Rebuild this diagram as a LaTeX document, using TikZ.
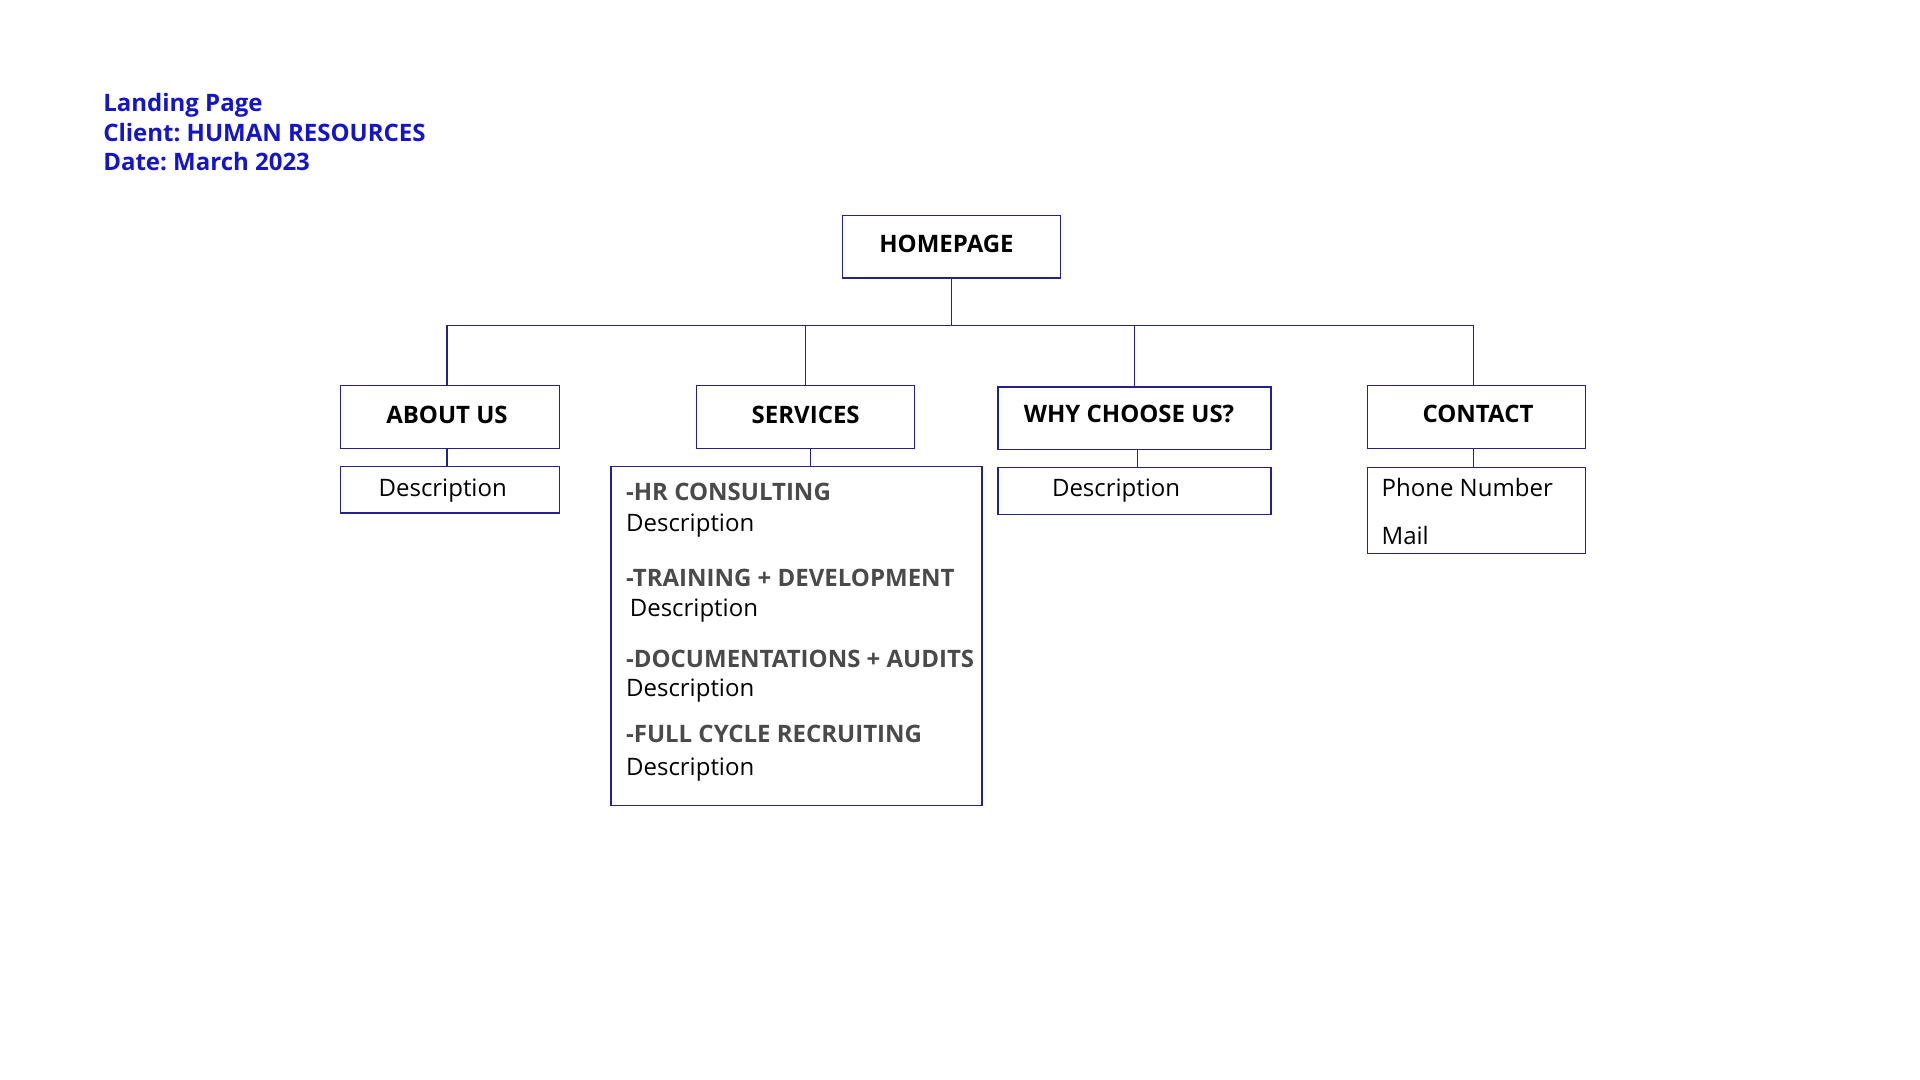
\documentclass[tikz,border=0pt]{standalone}
\usepackage{fontspec}
\setmainfont{Open Sans}
\frenchspacing
\definecolor{titleblue}{HTML}{1414C8}
\definecolor{navy}{HTML}{22228A}
\definecolor{headgray}{HTML}{4A4A4A}
\begin{document}
\begin{tikzpicture}[x=0.5pt,y=-0.5pt,
  every node/.style={font=\fontsize{12}{14.7}\selectfont, inner sep=0pt},
  box/.style={draw=navy, line width=0.6pt, rectangle},
  conn/.style={draw=navy, line width=0.6pt},
  head/.style={font=\fontsize{12}{14.7}\selectfont\bfseries},
  svchead/.style={anchor=west, text=headgray, font=\fontsize{12}{14.7}\selectfont\bfseries},
  svcdesc/.style={anchor=west},
  ttl/.style={anchor=west, text=titleblue, font=\fontsize{12}{14.7}\selectfont\bfseries}]
\useasboundingbox (0,0) rectangle (1920,1080);
% title
\node[ttl] (t1) at (102.9,105.4) {Landing Page};
\node[ttl] (t2) at (102.9,132.2) {Client: HUMAN RESOURCES};
\node[ttl] (t3) at (102.9,161.6) {Date: March 2023};
% main boxes
\node[box, minimum width=109pt, minimum height=31.25pt] (home) at (951.4,246.7) {};
\node[head] at (946.5,243.6) {HOMEPAGE};
\node[box, minimum width=109.6pt, minimum height=31.25pt] (about) at (450,417) {};
\node[head] at (447,415.1) {ABOUT US};
\node[box, minimum width=109pt, minimum height=31.25pt] (services) at (805.7,417) {};
\node[head] at (805.7,415.1) {SERVICES};
\node[box, minimum width=136.5pt, minimum height=31.2pt] (why) at (1134.5,418.2) {};
\node[head] at (1129,413.9) {WHY CHOOSE US?};
\node[box, minimum width=109pt, minimum height=31.25pt] (contact) at (1476.8,417) {};
\node[head] at (1478,413.9) {CONTACT};
% sub boxes
\node[box, minimum width=109.6pt, minimum height=23.25pt] (aboutd) at (450,489.8) {};
\node at (442.7,490.9) {Description};
\node[box, minimum width=185.5pt, minimum height=169.6pt] (svcl) at (796.5,636.1) {};
\node[box, minimum width=136.5pt, minimum height=23.25pt] (whyd) at (1134.5,491) {};
\node at (1116.1,490.9) {Description};
\node[box, minimum width=109pt, minimum height=42.85pt] (contd) at (1476.8,510.7) {};
\node[anchor=west] at (1381.2,487.4) {Phone Number};
\node[anchor=west] at (1381.2,535.1) {Mail};
% services list text
\node[svchead] at (625.7,492.2) {-HR CONSULTING};
\node[svcdesc] at (625.7,525.1) {Description};
\node[svchead] at (625.7,577.9) {-TRAINING + DEVELOPMENT};
\node[svcdesc] at (629.4,610.9) {Description};
\node[svchead] at (625.7,658.8) {-DOCUMENTATIONS + AUDITS};
\node[svcdesc] at (625.7,690.5) {Description};
\node[svchead] at (625.7,733.5) {-FULL CYCLE RECRUITING};
\node[svcdesc] at (625.7,770) {Description};
% connectors
\coordinate (bus) at (0,325.7);
\draw[conn] (home.south) -- (home.south |- bus);
\draw[conn] ([xshift=-1.5pt]about.north) -- ([xshift=-1.5pt]about.north |- bus) -- ([xshift=-1.8pt]contact.north |- bus) -- ([xshift=-1.8pt]contact.north);
\draw[conn] (services.north) -- (services.north |- bus);
\draw[conn] (why.north) -- (why.north |- bus);
\draw[conn] ([xshift=-1.5pt]about.south) -- ([xshift=-1.5pt]aboutd.north);
\draw[conn] ([xshift=2.5pt]services.south) -- ([xshift=2.5pt]services.south |- svcl.north);
\draw[conn] ([xshift=1.5pt]why.south) -- ([xshift=1.5pt]why.south |- whyd.north);
\draw[conn] ([xshift=-1.8pt]contact.south) -- ([xshift=-1.8pt]contd.north);
\end{tikzpicture}
\end{document}
